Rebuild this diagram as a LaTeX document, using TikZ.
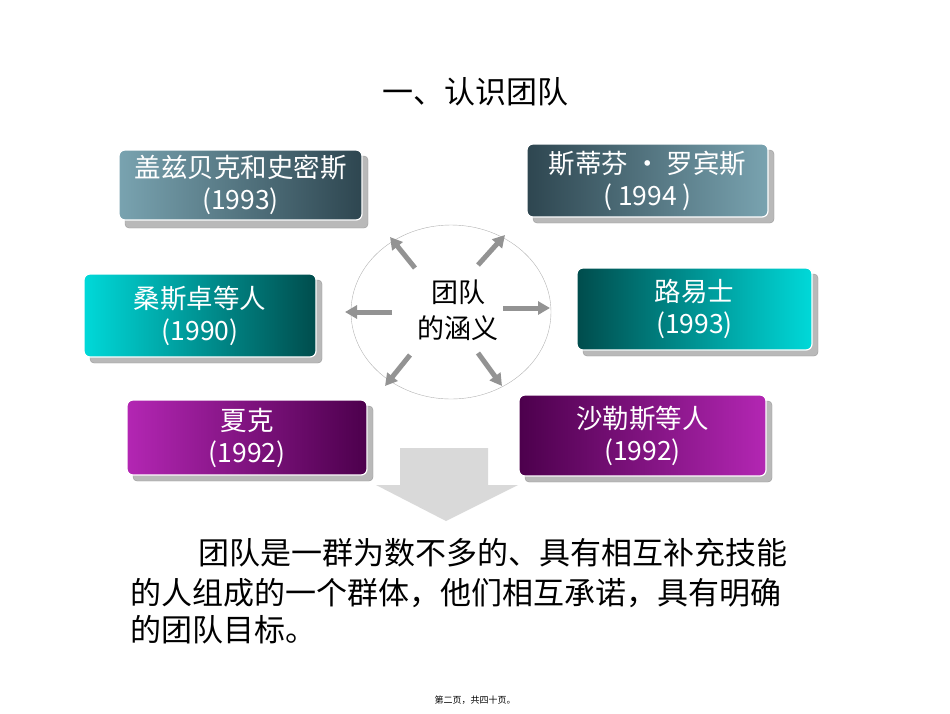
\documentclass[tikz,border=0pt]{standalone}
\usepackage{fontspec}
\setmainfont{Noto Sans CJK SC}
\usetikzlibrary{arrows.meta}
\definecolor{slL}{HTML}{79A3B0}
\definecolor{slD}{HTML}{2E4650}
\begin{document}
\begin{tikzpicture}[x=1pt,y=-1pt,
  shad/.style={fill=gray!55,draw=gray!80,rounded corners=4pt},
  bx/.style={draw=white,line width=1.2pt,rounded corners=6pt},
  bt/.style={text=white,align=center,font=\fontsize{26.5}{32}\selectfont},
  ar/.style={-{Triangle[length=12pt,width=13pt]},line width=5pt,draw=gray!85}]
\useasboundingbox (0,0) rectangle (950,713);
\node (title) at (475,92) {\fontsize{31}{34}\selectfont 一、认识团队};
% shadows
\fill[shad] (125,156) rectangle (368,228);
\fill[shad] (533,150) rectangle (774,223);
\fill[shad] (90,280) rectangle (322,363);
\fill[shad] (583,274) rectangle (818,356);
\fill[shad] (133,406) rectangle (373,481);
\fill[shad] (525,401) rectangle (772,482);
% boxes
\draw[bx,left color=slL,right color=slD] (119,150) rectangle node[bt] (b1) {盖兹贝克和史密斯\\(1993)} (362,220);
\draw[bx,left color=slD,right color=slL] (527,144) rectangle node[bt] (b2) {斯蒂芬 · 罗宾斯\\( 1994 )} (768,217);
\draw[bx,left color=cyan!70!teal,right color=teal!60!black] (84,274) rectangle node[bt] (b3) {桑斯卓等人\\(1990)} (316,357);
\draw[bx,left color=teal!60!black,right color=cyan!70!teal] (577,268) rectangle node[bt] (b4) {路易士\\(1993)} (812,350);
\draw[bx,left color=violet!70!magenta!85!white,right color=violet!60!black] (127,400) rectangle node[bt] (b5) {夏克\\(1992)} (367,475);
\draw[bx,left color=violet!60!black,right color=violet!70!magenta!85!white] (519,395) rectangle node[bt] (b6) {沙勒斯等人\\(1992)} (766,476);
% circle
\draw[gray!60,thin] (451,312) ellipse (100 and 87);
\node[align=center,font=\fontsize{27}{36}\selectfont] (c) at (458,310) {团队\\的涵义};
\coordinate (s1) at (415,268); \coordinate (e1) at (390,237);
\coordinate (s2) at (478,265); \coordinate (e2) at (505,235);
\coordinate (s3) at (392,312); \coordinate (e3) at (345,312);
\coordinate (s4) at (503,308); \coordinate (e4) at (550,308);
\coordinate (s5) at (410,355); \coordinate (e5) at (385,386);
\coordinate (s6) at (478,353); \coordinate (e6) at (502,386);
\foreach \i in {1,...,6} \draw[ar] (s\i) -- (e\i);
% big arrow
\fill[gray!30] (400,448) -- (488,448) -- (488,485) -- (518,485) -- (446,521) -- (376,485) -- (400,485) -- cycle;
% paragraph
\node[anchor=west,font=\fontsize{31}{33}\selectfont] (p1) at (127,553) {\hspace*{2.2em}团队是一群为数不多的、具有相互补充技能};
\node[anchor=west,font=\fontsize{31}{33}\selectfont] (p2) at (127,593) {的人组成的一个群体，他们相互承诺，具有明确};
\node[anchor=west,font=\fontsize{31}{33}\selectfont] (p3) at (127,630) {的团队目标。};
\node[font=\fontsize{9}{10}\selectfont] (ft) at (475,700) {第二页，共四十页。};
\end{tikzpicture}
\end{document}
